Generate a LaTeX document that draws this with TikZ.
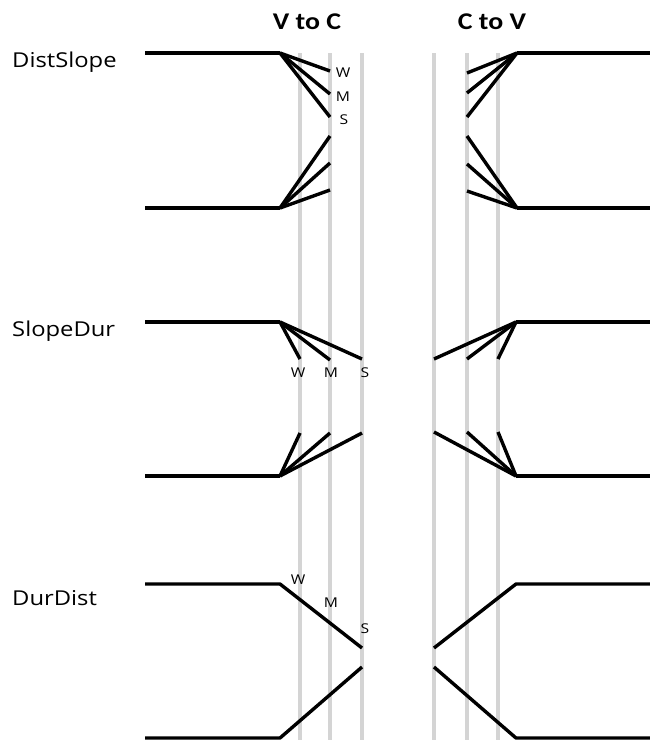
\documentclass[tikz,border=0pt]{standalone}
\usepackage{fontspec}
\newfontfamily\lblfont[FakeStretch=1.16]{Open Sans}
\newfontfamily\ttlfont[FakeStretch=1.16]{Carlito}
\begin{document}
\begin{tikzpicture}[x=1pt,y=-1pt,
  guide/.style={draw=black!17,line width=3.4pt},
  trace/.style={draw=black,line width=3.4pt,line join=round},
  rowlabel/.style={anchor=west,inner sep=0pt,font=\lblfont\fontsize{20.5}{20.5}\selectfont},
  wms/.style={inner sep=0pt,font=\lblfont\fontsize{13.5}{13.5}\selectfont},
  title/.style={inner sep=0pt,font=\ttlfont\bfseries\fontsize{24}{24}\selectfont}]
\useasboundingbox (0,0) rectangle (650,740);
% guide lines
\foreach \gx in {300,330,362,434,467,498}
  \draw[guide] (\gx,53) -- (\gx,740);
% titles
\node[title] (t1) at (307,22) {V to C};
\node[title] (t2) at (492,22) {C to V};
% row labels
\node[rowlabel] (r1) at (12,62) {DistSlope};
\node[rowlabel] (r2) at (12,331) {SlopeDur};
\node[rowlabel] (r3) at (12,598) {DurDist};
% ---------- DistSlope ----------
\coordinate (a1) at (280,53);
\coordinate (b1) at (280,208);
\draw[trace] (145,53) -- (a1);
\draw[trace] (145,208) -- (b1);
\draw[trace] (a1) -- (330,71);
\draw[trace] (a1) -- (330,94);
\draw[trace] (a1) -- (330,117);
\draw[trace] (b1) -- (330,190);
\draw[trace] (b1) -- (330,163);
\draw[trace] (b1) -- (330,136);
\node[wms] (w1) at (343,73) {W};
\node[wms] (m1) at (343,97) {M};
\node[wms] (s1) at (344,120) {S};
\coordinate (c1) at (517,53);
\coordinate (d1) at (517,208);
\draw[trace] (c1) -- (650,53);
\draw[trace] (d1) -- (650,208);
\draw[trace] (c1) -- (467,73);
\draw[trace] (c1) -- (467,93);
\draw[trace] (c1) -- (467,117);
\draw[trace] (d1) -- (467,191);
\draw[trace] (d1) -- (467,164);
\draw[trace] (d1) -- (467,136);
% ---------- SlopeDur ----------
\coordinate (a2) at (280,322);
\coordinate (b2) at (280,476);
\draw[trace] (145,322) -- (a2);
\draw[trace] (145,476) -- (b2);
\draw[trace] (a2) -- (300,359);
\draw[trace] (a2) -- (330,360);
\draw[trace] (a2) -- (362,359);
\draw[trace] (b2) -- (300,433);
\draw[trace] (b2) -- (330,433);
\draw[trace] (b2) -- (362,433);
\node[wms] (w2) at (298,373) {W};
\node[wms] (m2) at (331,373) {M};
\node[wms] (s2) at (365,373) {S};
\coordinate (c2) at (516,322);
\coordinate (d2) at (516,476);
\draw[trace] (c2) -- (650,322);
\draw[trace] (d2) -- (650,476);
\draw[trace] (c2) -- (434,359);
\draw[trace] (c2) -- (467,359);
\draw[trace] (c2) -- (498,359);
\draw[trace] (d2) -- (434,432);
\draw[trace] (d2) -- (467,432);
\draw[trace] (d2) -- (498,432);
% ---------- DurDist ----------
\draw[trace] (145,584) -- (280,584) -- (362,648);
\draw[trace] (362,667) -- (280,738) -- (145,738);
\node[wms] (w3) at (298,580) {W};
\node[wms] (m3) at (331,603) {M};
\node[wms] (s3) at (365,629) {S};
\draw[trace] (434,648) -- (516,584) -- (650,584);
\draw[trace] (434,667) -- (516,738) -- (650,738);
\end{tikzpicture}
\end{document}
